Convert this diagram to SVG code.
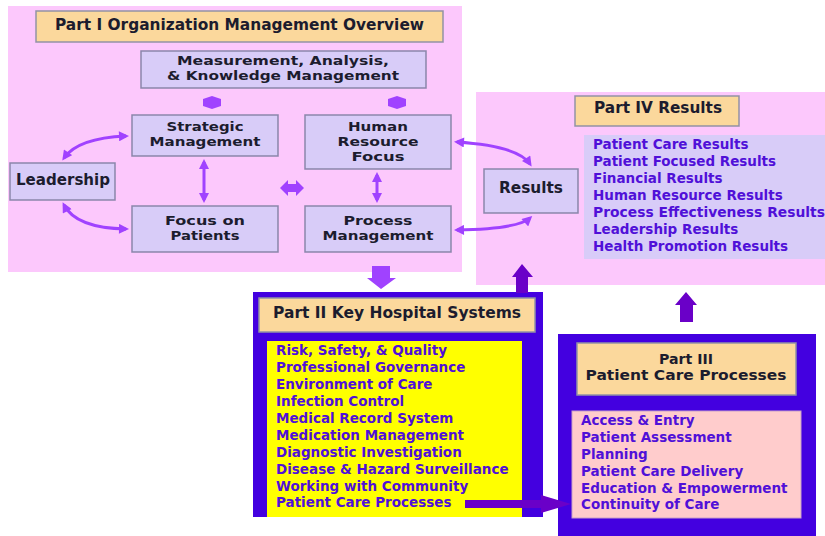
<svg xmlns="http://www.w3.org/2000/svg" width="825" height="536" viewBox="0 0 825 536">
<style>
text{font-family:"DejaVu Sans","Liberation Sans",Arial,sans-serif;font-weight:bold}
.h{fill:#1c1c2e;font-size:13px;text-anchor:middle}
.h1{fill:#1c1c2e;font-size:15px;text-anchor:middle}
.t{fill:#1c1c2e;font-size:16px;text-anchor:middle}
.li{fill:#5010d8;font-size:13.5px}
.panel{fill:#fcc8fc}
.blue{fill:#4300e0}
.node{fill:#d8ccf8;stroke:#8a86aa;stroke-width:1.5}
.title{fill:#fbd89c;stroke:#9292a4;stroke-width:1.5}
.con{fill:none;stroke:#a042ff;stroke-width:3}
.fat{fill:#a042ff}
.dark{fill:#6a00c8}
</style>
<defs>
<marker id="ah" viewBox="0 0 10 10" refX="7" refY="5" markerUnits="userSpaceOnUse" markerWidth="11" markerHeight="10" orient="auto-start-reverse">
<path d="M0,0 L10,5 L0,10 z" fill="#a042ff"/>
</marker>
</defs>

<g id="panel-part1">
<rect class="panel" x="8" y="6" width="454" height="266"/>
</g>
<g id="panel-part4">
<rect class="panel" x="476" y="92" width="349" height="193"/>
</g>
<g id="panel-part2">
<rect class="blue" x="253" y="292" width="290" height="225"/>
</g>
<g id="panel-part3">
<rect class="blue" x="558" y="334" width="258" height="202"/>
</g>

<g id="title-part1">
<rect class="title" x="36" y="11" width="407" height="31"/>
<text class="t" x="239.5" y="30" textLength="369" lengthAdjust="spacingAndGlyphs">Part I Organization Management Overview</text>
</g>
<g id="measurement">
<rect class="node" x="141" y="51" width="285" height="37"/>
<text class="h" x="283" y="65" textLength="212" lengthAdjust="spacingAndGlyphs">Measurement, Analysis,</text>
<text class="h" x="283" y="80" textLength="232" lengthAdjust="spacingAndGlyphs">&amp; Knowledge Management</text>
</g>
<g id="strategic">
<rect class="node" x="132" y="115" width="146" height="41"/>
<text class="h" x="205" y="131" textLength="77" lengthAdjust="spacingAndGlyphs">Strategic</text>
<text class="h" x="205" y="146" textLength="111" lengthAdjust="spacingAndGlyphs">Management</text>
</g>
<g id="hr">
<rect class="node" x="305" y="115" width="146" height="54"/>
<text class="h" x="378" y="131" textLength="60" lengthAdjust="spacingAndGlyphs">Human</text>
<text class="h" x="378" y="146" textLength="81" lengthAdjust="spacingAndGlyphs">Resource</text>
<text class="h" x="378" y="161" textLength="53" lengthAdjust="spacingAndGlyphs">Focus</text>
</g>
<g id="leadership">
<rect class="node" x="10" y="163" width="105" height="37"/>
<text class="h1" x="63" y="185" textLength="94" lengthAdjust="spacingAndGlyphs">Leadership</text>
</g>
<g id="focus">
<rect class="node" x="132" y="206" width="146" height="46"/>
<text class="h" x="205" y="225" textLength="80" lengthAdjust="spacingAndGlyphs">Focus on</text>
<text class="h" x="205" y="240" textLength="69" lengthAdjust="spacingAndGlyphs">Patients</text>
</g>
<g id="process">
<rect class="node" x="305" y="206" width="146" height="46"/>
<text class="h" x="378" y="225" textLength="69" lengthAdjust="spacingAndGlyphs">Process</text>
<text class="h" x="378" y="240" textLength="111" lengthAdjust="spacingAndGlyphs">Management</text>
</g>

<g id="results">
<rect class="node" x="484" y="169" width="94" height="44"/>
<text class="h1" x="531" y="193" textLength="64" lengthAdjust="spacingAndGlyphs">Results</text>
</g>
<g id="title-part4">
<rect class="title" x="575" y="96" width="164" height="30"/>
<text class="h1" x="658" y="113" textLength="128" lengthAdjust="spacingAndGlyphs">Part IV Results</text>
</g>
<g id="results-list">
<rect x="584" y="135" width="241" height="124" fill="#d8ccf8"/>
<text class="li" x="593" y="149">Patient Care Results</text>
<text class="li" x="593" y="166">Patient Focused Results</text>
<text class="li" x="593" y="183">Financial Results</text>
<text class="li" x="593" y="200">Human Resource Results</text>
<text class="li" x="593" y="217" textLength="232" lengthAdjust="spacingAndGlyphs">Process Effectiveness Results</text>
<text class="li" x="593" y="234">Leadership Results</text>
<text class="li" x="593" y="251">Health Promotion Results</text>
</g>

<g id="title-part2">
<rect class="title" x="259" y="298" width="276" height="34"/>
<text class="t" x="397" y="318" textLength="248" lengthAdjust="spacingAndGlyphs">Part II Key Hospital Systems</text>
</g>
<g id="systems-list">
<rect x="267" y="341" width="255" height="176" fill="#ffff00"/>
<text class="li" x="276" y="355">Risk, Safety, &amp; Quality</text>
<text class="li" x="276" y="372">Professional Governance</text>
<text class="li" x="276" y="389">Environment of Care</text>
<text class="li" x="276" y="406">Infection Control</text>
<text class="li" x="276" y="423">Medical Record System</text>
<text class="li" x="276" y="440">Medication Management</text>
<text class="li" x="276" y="457">Diagnostic Investigation</text>
<text class="li" x="276" y="474">Disease &amp; Hazard Surveillance</text>
<text class="li" x="276" y="491">Working with Community</text>
<text class="li" x="276" y="507">Patient Care Processes</text>
</g>

<g id="title-part3">
<rect class="title" x="577" y="343" width="219" height="52"/>
<text class="h" x="686" y="364" textLength="54" lengthAdjust="spacingAndGlyphs" style="font-size:14px">Part III</text>
<text class="h" x="686" y="380" textLength="201" lengthAdjust="spacingAndGlyphs" style="font-size:14px">Patient Care Processes</text>
</g>
<g id="process-list">
<rect x="572" y="411" width="229" height="107" fill="#ffcccc" stroke="#c8a0c8" stroke-width="1"/>
<text class="li" x="581" y="425">Access &amp; Entry</text>
<text class="li" x="581" y="442">Patient Assessment</text>
<text class="li" x="581" y="459">Planning</text>
<text class="li" x="581" y="476">Patient Care Delivery</text>
<text class="li" x="581" y="493">Education &amp; Empowerment</text>
<text class="li" x="581" y="509">Continuity of Care</text>
</g>

<g id="connectors">
<path class="con" d="M126 136 Q78 138 64 158" marker-start="url(#ah)" marker-end="url(#ah)"/>
<path class="con" d="M64 205 Q76 228 126 229" marker-start="url(#ah)" marker-end="url(#ah)"/>
<path class="con" d="M204 162 L204 200" marker-start="url(#ah)" marker-end="url(#ah)"/>
<path class="con" d="M377 175 L377 200" marker-start="url(#ah)" marker-end="url(#ah)"/>
<path class="con" d="M457 142 Q518 146 530 164" marker-start="url(#ah)" marker-end="url(#ah)"/>
<path class="con" d="M530 218 Q518 229 457 230" marker-start="url(#ah)" marker-end="url(#ah)"/>
<polygon class="fat" points="280,188 288,180 288,184 296,184 296,180 304,188 296,196 296,192 288,192 288,196"/>
<polygon class="fat" points="203,99 212,96 221,99 221,106 212,109 203,106"/>
<polygon class="fat" points="388,99 397,96 406,99 406,106 397,109 388,106"/>
<polygon class="fat" points="372,266 390,266 390,278 396,278 381,289 367,278 372,278"/>
<polygon class="dark" points="516,293 528,293 528,277 533,277 522,264 512,277 516,277"/>
<polygon class="dark" points="680,322 693,322 693,305 697,305 686,292 675,305 680,305"/>
<polygon class="dark" points="465,500 541,500 541,495 571,504 541,513 541,508 465,508"/>
</g>
</svg>
